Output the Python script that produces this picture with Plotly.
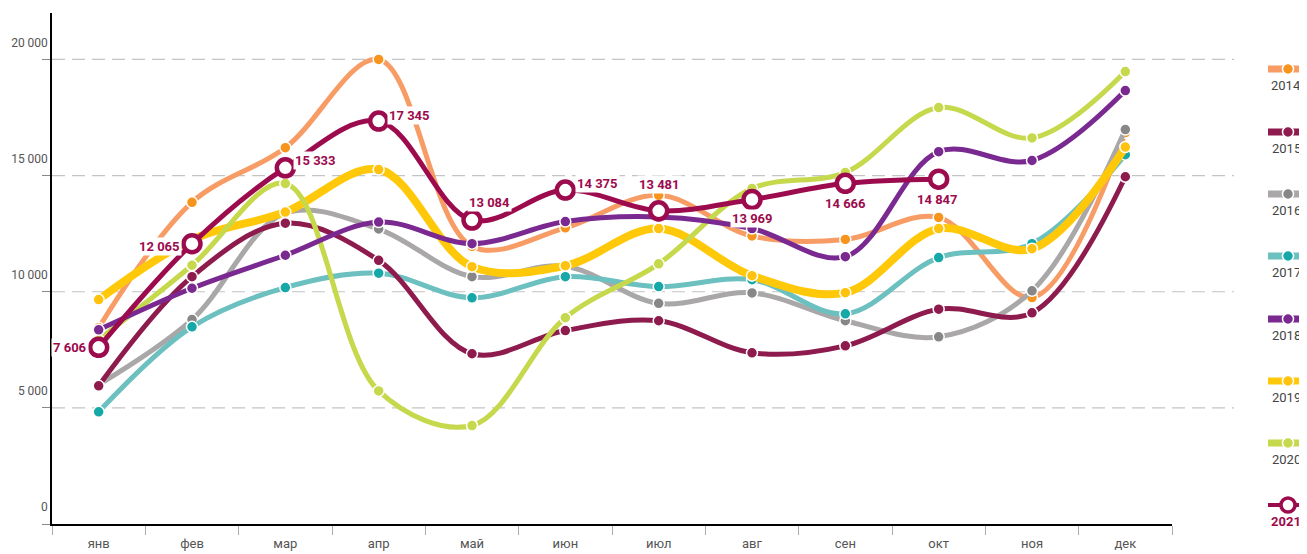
import plotly.graph_objects as go

months = ["янв", "фев", "мар", "апр", "май", "июн", "июл", "авг", "сен", "окт", "ноя", "дек"]
years = ["2014", "2015", "2016", "2017", "2018", "2019", "2020", "2021"]

y2014 = [8450, 13850, 16200, 20000, 11950, 12750, 14150, 12400, 12250, 13200, 9750, 16850]
y2015 = [5950, 10650, 12950, 11350, 7330, 8330, 8750, 7370, 7670, 9250, 9090, 14950]
y2016 = [6000, 8800, 13380, 12700, 10650, 11100, 9500, 9950, 8750, 8060, 10040, 16980]
y2017 = [4830, 8490, 10180, 10800, 9740, 10650, 10220, 10520, 9050, 11470, 12070, 15900]
y2018 = [8360, 10150, 11570, 13000, 12070, 13020, 13220, 12720, 11510, 16030, 15650, 18660]
y2019 = [9660, 12240, 13430, 15260, 11080, 11120, 12720, 10690, 9960, 12720, 11850, 16230]
y2020 = [7930, 11140, 14660, 5730, 4240, 8880, 11200, 14440, 15130, 17930, 16620, 19480]
y2021 = [7606, 12065, 15333, 17345, 13084, 14375, 13481, 13969, 14666, 14847, None, None]

y_ticks = [0, 5000, 10000, 15000, 20000]
y_ticktext = ["0", "5 000", "10 000", "15 000", "20 000"]

series = [y2014, y2015, y2016, y2017, y2018, y2019, y2020]
line_colors = ["#F89C66", "#8E1B4D", "#A9A7A7", "#6CC0C0", "#7A2991", "#FFC90A", "#C6D84B"]
marker_colors = ["#F7941E", "#8E1B4D", "#878787", "#16A8A8", "#7A2991", "#FFC20E", "#C6D84B"]
widths = [5, 5, 5, 5, 5, 8, 5]
c2021 = "#9C0B4D"

FONT = "Roboto, sans-serif"

# page has an 8px body margin: figure origin sits at (8, 8)
OFF = 8
W, H = 1307 - OFF, 554 - OFF
# plot area in page pixels
PL, PR, PT, PB = 52, 1172, 13, 524
L, R, T, B = PL - OFF, PR - OFF, PT - OFF, PB - OFF


def px_x(px):
    return (px - PL) / (PR - PL)


def px_y(py):
    return (PB - py) / (PB - PT)


fig = go.Figure()

order = [0, 2, 3, 5, 1, 6, 4]
for i in order:
    fig.add_trace(go.Scatter(
        x=months, y=series[i], name=years[i], mode="lines+markers",
        line=dict(color=line_colors[i], width=widths[i], shape="spline", smoothing=1.0),
        marker=dict(color=marker_colors[i], size=11, line=dict(color="white", width=1.5)),
        showlegend=False, hoverinfo="x+y+name",
    ))

fig.add_trace(go.Scatter(
    x=months, y=y2021, name="2021", mode="lines+markers",
    line=dict(color=c2021, width=5, shape="spline", smoothing=1.0),
    marker=dict(color="white", size=17, line=dict(color=c2021, width=4.5)),
    showlegend=False, connectgaps=False,
))


def fmt(v):
    return f"{v:,}".replace(",", " ")


label_pos = [
    ("right", -10, 0),
    ("right", -10, -3),
    ("left", 8, 7),
    ("left", 8, 6),
    ("center", 17, 18),
    ("left", 10, 7),
    ("center", 1, 26),
    ("center", 0, -19),
    ("center", 0, -20),
    ("center", -1, -20),
]
annotations = []
for m, v, (xa, xs, ys) in zip(months, y2021, label_pos):
    if v is None:
        continue
    annotations.append(dict(
        x=m, y=v, xref="x", yref="y", text=fmt(v), showarrow=False,
        xanchor=xa, yanchor="middle", xshift=xs, yshift=ys,
        font=dict(family=FONT, size=13, color=c2021, weight="bold"),
        bgcolor="white", borderpad=1,
    ))

shapes = []
for v in y_ticks[1:]:
    shapes.append(dict(type="line", xref="paper", yref="y", x0=0, x1=px_x(1234), y0=v, y1=v,
                       line=dict(color="#C4C4C4", width=1.2, dash="13px,7px"), layer="below"))

leg_y = [69, 132, 194, 256, 319, 381, 443, 505]
all_line = line_colors + [c2021]
all_marker = marker_colors + [c2021]
for k, yr in enumerate(years):
    py = leg_y[k]
    is21 = yr == "2021"
    shapes.append(dict(type="line", xref="paper", yref="paper", x0=px_x(1268), x1=px_x(1307),
                       y0=px_y(py), y1=px_y(py),
                       line=dict(color=all_line[k], width=4 if is21 else 7)))
    r = 7 if is21 else 5.5
    shapes.append(dict(type="circle", xref="paper", yref="paper", xsizemode="pixel", ysizemode="pixel",
                       xanchor=px_x(1288), yanchor=px_y(py), x0=-r, x1=r, y0=-r, y1=r,
                       fillcolor="white" if is21 else all_marker[k],
                       line=dict(color=c2021 if is21 else "white", width=3.5 if is21 else 1.5)))
    annotations.append(dict(
        x=px_x(1286), y=px_y(py + 16), xref="paper", yref="paper", text=yr, showarrow=False,
        xanchor="center", yanchor="middle",
        font=dict(family=FONT, size=13, color=c2021 if is21 else "#444444",
                  weight="bold" if is21 else "normal"),
    ))

fig.update_layout(
    width=W, height=H,
    margin=dict(l=L, r=W - R, t=T, b=H - B, autoexpand=False),
    paper_bgcolor="white", plot_bgcolor="white",
    font=dict(family=FONT, size=13, color="#555555"),
    shapes=shapes, annotations=annotations,
    showlegend=False,
    xaxis=dict(
        type="category", range=[-0.5, 11.5], showgrid=False, zeroline=False, automargin=False,
        showline=True, linecolor="black", linewidth=2,
        ticks="outside", tickson="boundaries", ticklen=9, tickcolor="#AAAAAA", tickwidth=1,
        ticklabelstandoff=6,
        tickfont=dict(family=FONT, size=13, color="#555555"),
    ),
    yaxis=dict(
        range=[0, 22000], showgrid=False, zeroline=False, automargin=False,
        showline=True, linecolor="black", linewidth=1.5,
        tickvals=y_ticks, ticktext=y_ticktext,
        ticks="outside", ticklen=8, tickcolor="#888888",
        ticklabelshift=-17, ticklabelstandoff=-8,
        tickfont=dict(family=FONT, size=12, color="#555555"),
    ),
)

fig.write_html("out.html")
